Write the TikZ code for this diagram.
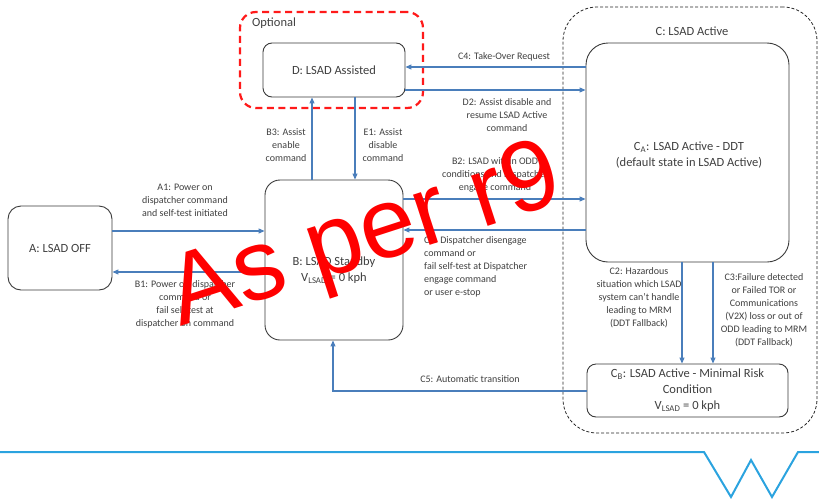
\documentclass[tikz,border=0pt]{standalone}
\usepackage{fontspec}
\setmainfont{Carlito}
\newfontfamily\markfont{Liberation Sans}
\usetikzlibrary{arrows.meta}
\definecolor{flowblue}{HTML}{4A7EBB}
\definecolor{boxline}{HTML}{3A3A3A}
\definecolor{labeltext}{HTML}{3F3F3F}
\definecolor{bandblue}{HTML}{2BA3DF}
\definecolor{optred}{HTML}{FF1A1A}
\begin{document}
\begin{tikzpicture}[x=1pt,y=-1pt,
  stbox/.style={draw=boxline,line width=0.9pt,inner sep=0pt,text=labeltext,
    font=\fontsize{12.5}{16}\selectfont,align=center},
  flow/.style={draw=flowblue,line width=1.1pt,-{Triangle[length=6pt,width=5pt]}},
  lbl/.style={text=labeltext,font=\fontsize{10}{13}\selectfont,align=center,inner sep=0pt},
  grouptitle/.style={text=labeltext,font=\fontsize{12.5}{15}\selectfont,inner sep=0pt},
]
\useasboundingbox (0,0) rectangle (819,498);

% grouping frames
\node[draw=optred,line width=2.2pt,dash pattern=on 7pt off 4.5pt,rounded corners=16pt,
  minimum width=183pt,minimum height=96pt] (optgroup) at (331.5,60) {};
\node[draw=black!85,line width=0.8pt,dash pattern=on 3pt off 2pt,rounded corners=34pt,
  minimum width=254pt,minimum height=426pt] (activegroup) at (690,220) {};
\node[grouptitle,anchor=west] (optlabel) at (252,23) {Optional};
\node[grouptitle] (activelabel) at (692,31) {C: LSAD Active};

% states
\node[stbox,rounded corners=13pt,minimum width=104pt,minimum height=84pt] (A) at (60,248) {A: LSAD OFF};
\node[stbox,rounded corners=15pt,minimum width=138pt,minimum height=160pt] (B) at (334,260) {};
\node[stbox,draw=none] (Btext) at (334,270) {B: LSAD Standby\\V\textsubscript{LSAD} = 0 kph};
\node[stbox,rounded corners=9pt,minimum width=142pt,minimum height=54pt] (D) at (334,70) {D: LSAD Assisted};
\node[stbox,rounded corners=22pt,minimum width=203pt,minimum height=219pt] (CA) at (687.5,152.5) {};
\node[stbox,draw=none] (CAtext) at (689,155) {C\textsubscript{A}: LSAD Active - DDT\\(default state in LSAD Active)};
\node[stbox,rounded corners=9pt,minimum width=201pt,minimum height=53pt] (CB) at (687.5,390.5)
  {C\textsubscript{B}: LSAD Active - Minimal Risk\\Condition\\V\textsubscript{LSAD} = 0 kph};

% transitions
\draw[flow] (A.east |- 0,231) -- (B.west |- 0,231);
\draw[flow] (B.west |- 0,272) -- (A.east |- 0,272);
\draw[flow] (B.north -| 312,0) -- (D.south -| 312,0);
\draw[flow] (D.south -| 355,0) -- (B.north -| 355,0);
\draw[flow] (CA.west |- 0,67) -- (D.east |- 0,67);
\draw[flow] (D.east |- 0,90) -- (CA.west |- 0,90);
\draw[flow] (B.east |- 0,199) -- (CA.west |- 0,199);
\draw[flow] (CA.west |- 0,230) -- (B.east |- 0,230);
\draw[flow] (CA.south -| 682,0) -- (CB.north -| 682,0);
\draw[flow] (CA.south -| 713,0) -- (CB.north -| 713,0);
\draw[flow] (CB.west |- 0,391) -| (B.south -| 333,0);

% transition labels
\node[lbl] (lA1) at (185,200) {A1: Power on\\dispatcher command\\and self-test initiated};
\node[lbl] (lB1) at (185,304) {B1: Power off dispatcher\\command or\\fail self-test at\\dispatcher on command};
\node[lbl] (lB3) at (286,145) {B3: Assist\\enable\\command};
\node[lbl] (lE1) at (383,145) {E1: Assist\\disable\\command};
\node[lbl] (lC4) at (504,57) {C4: Take-Over Request};
\node[lbl] (lD2) at (507,115) {D2: Assist disable and\\resume LSAD Active\\command};
\node[lbl] (lB2) at (495,175) {B2: LSAD within ODD\\conditions and Dispatcher\\engage command};
\node[lbl,align=left,anchor=west] (lC1) at (424,267) {C1: Dispatcher disengage\\command or\\fail self-test at Dispatcher\\engage command\\or user e-stop};
\node[lbl] (lC2) at (639,298) {C2: Hazardous\\situation which LSAD\\system can’t handle\\leading to MRM\\(DDT Fallback)};
\node[lbl] (lC3) at (764,310) {C3:Failure detected\\or Failed TOR or\\Communications\\(V2X) loss or out of\\ODD leading to MRM\\(DDT Fallback)};
\node[lbl] (lC5) at (470,379) {C5: Automatic transition};

% footer band
\draw[bandblue,line width=2pt,line join=miter] (0,452) -- (704,452) -- (731,497) -- (751,460)
  -- (772,497) -- (798,452) -- (819,452);

% stamp
\node[text=red,font=\markfont\fontsize{100}{100}\selectfont,rotate=18,inner sep=0pt] (stamp) at (366,240) {As per r9};
\end{tikzpicture}
\end{document}
